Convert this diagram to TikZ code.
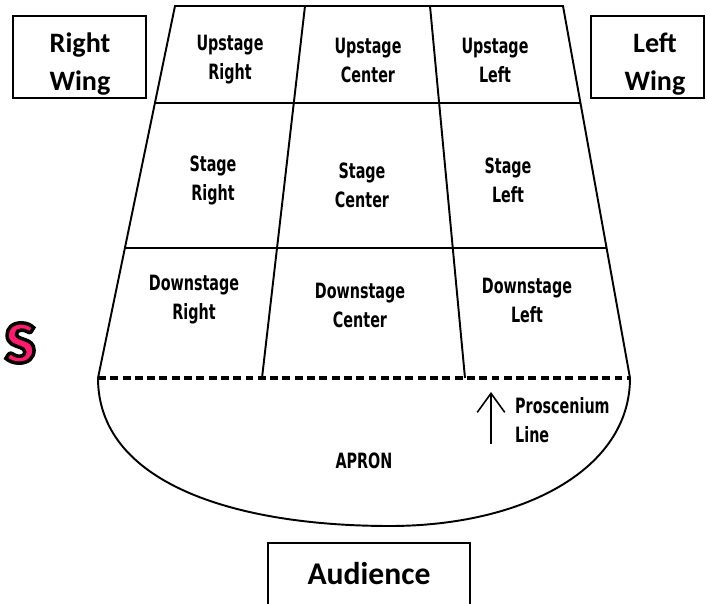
\documentclass[tikz,border=0pt]{standalone}
\usepackage{fontspec}
\usepackage{tikz}
\usetikzlibrary{calc,arrows.meta}
\newfontfamily\cellfont[FakeStretch=0.68]{DejaVu Sans}
\newfontfamily\wingfont{Carlito}
\definecolor{titlepink}{HTML}{FF1A6E}
\newcommand{\outlinetext}[1]{\special{pdf:literal direct 2 Tr 2 w 0 0 0 RG}#1\special{pdf:literal direct 0 Tr}}

\begin{document}
\begin{tikzpicture}[x=0.02cm, y=-0.02cm,
  edge/.style={line width=1.1pt},
  rowline/.style={line width=1.3pt},
  proscenium/.style={line width=2pt, dash pattern=on 4.5pt off 2.5pt},
  wingbox/.style={line width=0.8pt},
  cell/.style={align=center, font=\cellfont\bfseries\fontsize{12}{16.5}\selectfont},
  wing/.style={align=center, font=\wingfont\bfseries\fontsize{16}{22}\selectfont},
  title/.style={text=titlepink, font=\wingfont\bfseries\fontsize{46}{46}\selectfont}]
\useasboundingbox (0,0) rectangle (707,604);

% Stage corners and dividers
\coordinate (tl) at (175,6);
\coordinate (tr) at (563,6);
\coordinate (bl) at (98,378);
\coordinate (br) at (630,378);
\coordinate (d1top) at (305,6);
\coordinate (d1bot) at (262,378);
\coordinate (d2top) at (430,6);
\coordinate (d2bot) at (465,378);
\coordinate (r1l) at ($(tl)!0.2608!(bl)$);
\coordinate (r1r) at ($(tr)!0.2608!(br)$);
\coordinate (r2l) at ($(tl)!0.6505!(bl)$);
\coordinate (r2r) at ($(tr)!0.6505!(br)$);
\coordinate (apronlow) at (390,526);

% Stage outline
\draw[edge] (bl) -- (tl) -- (tr) -- (br);
\draw[edge] (d1top) -- (d1bot);
\draw[edge] (d2top) -- (d2bot);
\draw[rowline] (r1l) -- (r1r);
\draw[rowline] (r2l) -- (r2r);

% Apron and proscenium line
\draw[edge] (bl) .. controls (98,482) and (232,526) .. (apronlow)
  .. controls (522,526) and (630,470) .. (br);
\draw[proscenium] (bl) -- (br);

% Stage areas
\node[cell] (usr) at (230,60) {Upstage\\Right};
\node[cell] (usc) at (368,60) {Upstage\\Center};
\node[cell] (usl) at (495,60) {Upstage\\Left};
\node[cell] (sr) at (213,180) {Stage\\Right};
\node[cell] (sc) at (362,185) {Stage\\Center};
\node[cell] (sl) at (508,180) {Stage\\Left};
\node[cell] (dsr) at (194,300) {Downstage\\Right};
\node[cell] (dsc) at (360,305) {Downstage\\Center};
\node[cell] (dsl) at (527,300) {Downstage\\Left};
\node[cell] (apron) at (364,461) {APRON};

% Proscenium label
\coordinate (arrowtail) at (491,444);
\coordinate (arrowtip) at (491,392);
\draw[-{Straight Barb[length=3.8mm,width=5.5mm]}, line width=0.9pt] (arrowtail) -- (arrowtip);
\node[cell, align=left, anchor=west] (prosc) at (509,420) {Proscenium\\Line};

% Wings and audience
\draw[wingbox] (13,16) rectangle (146,98);
\node[wing] (rwing) at (80,64) {Right\\Wing};
\draw[wingbox] (591,16) rectangle (704,98);
\node[wing] (lwing) at (655,64) {Left\\Wing};
\draw[wingbox] (268,543) rectangle (470,620);
\node[wing, font=\wingfont\bfseries\fontsize{18}{22}\selectfont] (aud) at (369,574) {Audience};

% Title letter at the left edge
\node[title] (pinks) at (20,343) {\outlinetext{s}};
\end{tikzpicture}
\end{document}
